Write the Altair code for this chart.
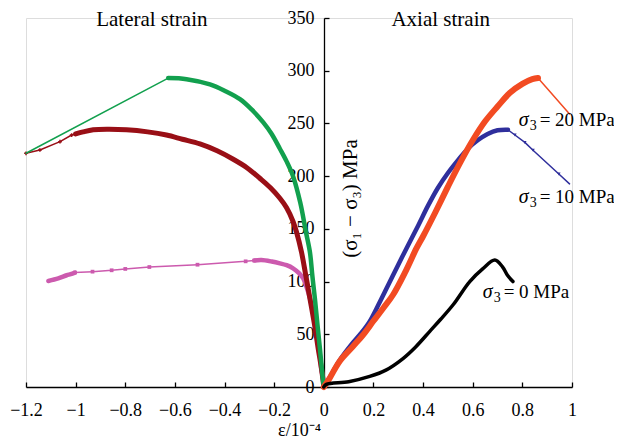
import altair as alt
import pandas as pd

# ---------------- data ----------------
X_TICKS = [-1.2, -1.0, -0.8, -0.6, -0.4, -0.2, 0, 0.2, 0.4, 0.6, 0.8, 1.0]
Y_TICKS = [0, 50, 100, 150, 200, 250, 300, 350]

# Lateral strain, sigma3 = 20 MPa (green)
LAT20_X = [0, -0.005, -0.016, -0.026, -0.036, -0.046, -0.056, -0.072, -0.095, -0.124, -0.15,
           -0.177, -0.21, -0.244, -0.29, -0.338, -0.40, -0.459, -0.553, -0.627]
LAT20_Y = [0, 10, 37, 60, 84, 105, 128, 147, 175, 200, 214, 226, 240, 251, 263, 273, 281,
           287, 292, 293]
LAT20_TAIL_X = [-0.627, -1.2]
LAT20_TAIL_Y = [293, 221.7]

# Lateral strain, sigma3 = 10 MPa (dark red)
LAT10_X = [0, -0.008, -0.023, -0.038, -0.056, -0.072, -0.090, -0.11, -0.124, -0.15, -0.177,
           -0.215, -0.258, -0.31, -0.365, -0.43, -0.499, -0.57, -0.634, -0.71, -0.795, -0.87,
           -0.929, -0.97, -1.0]
LAT10_Y = [0, 15, 37, 60, 84, 105, 128, 147, 157, 170, 179, 189, 198, 208, 216, 224, 230.5,
           235, 239, 242, 244, 244.5, 244, 242, 240]
LAT10_TAIL_X = [-1.0, -1.016, -1.063, -1.144, -1.2]
LAT10_TAIL_Y = [240, 239, 232.7, 224.8, 221.7]

# Lateral strain, sigma3 = 0 MPa (magenta)
LAT0_X = [0, -0.004, -0.009, -0.018, -0.029, -0.042, -0.056, -0.07, -0.083, -0.10, -0.124,
          -0.15, -0.177, -0.21, -0.251, -0.28]
LAT0_Y = [0, 10, 15, 35, 52.8, 70, 84.2, 95, 103, 108, 112.6, 115.5, 117.3, 119, 120.4, 120]
LAT0_TAIL_X = [-0.28, -0.315, -0.509, -0.703, -0.8, -0.855, -0.932, -1.003]
LAT0_TAIL_Y = [120, 119.2, 116, 113.8, 112, 110.7, 109.4, 108.5]
LAT0_END_X = [-1.003, -1.02, -1.036, -1.07, -1.11]
LAT0_END_Y = [108.5, 107, 106, 103, 100.6]

# Axial strain, sigma3 = 20 MPa (orange-red)
AX20_X = [0, 0.02, 0.064, 0.118, 0.16, 0.199, 0.24, 0.279, 0.33, 0.373, 0.4, 0.45, 0.5,
          0.55, 0.6, 0.65, 0.7, 0.75, 0.8, 0.84, 0.863]
AX20_Y = [0, 7, 24.5, 38.7, 50, 62.3, 75, 87.5, 110, 131.4, 143, 166, 190, 213, 234, 252,
          266, 279, 287.5, 292, 293]
AX20_TAIL_X = [0.863, 0.99]
AX20_TAIL_Y = [293, 259]

# Axial strain, sigma3 = 10 MPa (blue)
AX10_X = [0, 0.02, 0.064, 0.11, 0.15, 0.185, 0.22, 0.26, 0.30, 0.333, 0.38, 0.42, 0.46, 0.50,
          0.54, 0.58, 0.62, 0.66, 0.70, 0.742]
AX10_Y = [0, 7.5, 25.5, 40, 51, 62.3, 78, 97, 116, 131.4, 153, 172, 189, 203, 215, 226, 234,
          240, 243.5, 244]
AX10_TAIL_X = [0.742, 0.77, 0.81, 0.843, 0.947, 0.99]
AX10_TAIL_Y = [244, 239, 232, 224.5, 202, 192.7]

# Axial strain, sigma3 = 0 MPa (black)
AX0_X = [0, 0.01, 0.1, 0.185, 0.25, 0.319, 0.37, 0.427, 0.47, 0.521, 0.588, 0.64, 0.689,
         0.72, 0.74, 0.762]
AX0_Y = [0, 2.5, 5, 10, 16, 27, 38, 52.8, 64, 78, 100, 112, 120.4, 114, 106, 100]

# Text annotations
HEAD_TEXT = ["Lateral strain", "Axial strain"]
HEAD_X = [-0.693, 0.471]
HEAD_Y = [348, 348]

ANN_VALUE = ["= 20 MPa", "= 10 MPa", "= 0 MPa"]
ANN_X = [0.785, 0.785, 0.64]
ANN_Y = [253, 180, 90]

# ---------------- chart ----------------
FONT = "Liberation Serif"
PLOT_W = 546
PLOT_H = 369
xscale = alt.Scale(domain=[-1.2, 1.0], nice=False, zero=False)
yscale = alt.Scale(domain=[0, 350], nice=False, zero=False)


def frame(xs, ys):
    return pd.DataFrame({"x": xs, "y": ys, "i": list(range(len(xs)))})


def xy_none():
    return dict(
        x=alt.X("x:Q", scale=xscale, axis=None),
        y=alt.Y("y:Q", scale=yscale, axis=None),
    )


def line(xs, ys, color, width, smooth=True):
    return alt.Chart(frame(xs, ys)).mark_line(
        color=color, strokeWidth=width, strokeJoin="round", strokeCap="round",
        interpolate="catmull-rom" if smooth else "linear"
    ).encode(order="i:Q", **xy_none())


def pts(xs, ys, color, shape, size):
    return alt.Chart(frame(xs, ys)).mark_point(
        color=color, fill=color, filled=True, shape=shape, size=size, opacity=1
    ).encode(**xy_none())


GREEN = "#12a04e"
DARKRED = "#990f16"
MAGENTA = "#cc5aae"
ORANGE = "#f24b22"
BLUE = "#2f2f9c"
BLACK = "#000000"

# layer that carries the main axes (labels + domain lines)
main_axes = alt.Chart(frame(LAT0_X, LAT0_Y)).mark_line(
    color=MAGENTA, strokeWidth=4.5, strokeJoin="round", strokeCap="round",
    interpolate="catmull-rom"
).encode(
    x=alt.X("x:Q", scale=xscale, axis=alt.Axis(
        orient="bottom", values=X_TICKS, format="~g", ticks=False, grid=False,
        labelFont=FONT, labelFontSize=18, labelColor="black", labelPadding=14,
        labelFlush=False, labelOverlap=False,
        domainColor="black", domainWidth=1.3,
        title="ε/10⁻⁴", titleFont=FONT, titleFontSize=18, titleFontWeight="normal",
        titleColor="black", titlePadding=2)),
    y=alt.Y("y:Q", scale=yscale, axis=alt.Axis(
        orient="left", offset=-298, values=Y_TICKS, format="d", ticks=False, grid=False,
        labelFont=FONT, labelFontSize=18, labelColor="black", labelPadding=10,
        labelOverlap=False, domainColor="black", domainWidth=1.3, title=None)),
    order="i:Q",
)

# layer that carries the inward tick marks and the y title
tick_axes = alt.Chart(frame(AX0_X, AX0_Y)).mark_line(
    color=BLACK, strokeWidth=3.5, strokeJoin="round", strokeCap="round",
    interpolate="catmull-rom"
).encode(
    x=alt.X("x:Q", scale=xscale, axis=alt.Axis(
        orient="top", offset=-PLOT_H, values=X_TICKS, labels=False, domain=False,
        ticks=True, tickSize=5, tickColor="black", tickWidth=1.3, grid=False, title=None)),
    y=alt.Y("y:Q", scale=yscale, axis=alt.Axis(
        orient="right", offset=-248, values=Y_TICKS, labels=False, domain=False,
        ticks=True, tickSize=5, tickColor="black", tickWidth=1.3, grid=False,
        title="(σ₁ − σ₃) MPa", titleFont=FONT, titleFontSize=21, titleFontWeight="normal",
        titleColor="black", titleAngle=270, titleAlign="center", titleBaseline="middle",
        titleX=26, titleY=180)),
    order="i:Q",
)

head_df = pd.DataFrame({"x": HEAD_X, "y": HEAD_Y, "t": HEAD_TEXT})
heads = alt.Chart(head_df).mark_text(
    font=FONT, fontSize=21, color="black", align="center", baseline="middle"
).encode(text="t:N", **xy_none())

ann_df = pd.DataFrame({"x": ANN_X, "y": ANN_Y, "t": ANN_VALUE})
ann_sigma = alt.Chart(ann_df).mark_text(
    font=FONT, fontSize=20, fontStyle="italic", color="black", align="left",
    baseline="middle", text="σ"
).encode(**xy_none())
ann_sub = alt.Chart(ann_df).mark_text(
    font=FONT, fontSize=14, color="black", align="left", baseline="middle",
    dx=11, dy=6, text="3"
).encode(**xy_none())
ann_val = alt.Chart(ann_df).mark_text(
    font=FONT, fontSize=19, color="black", align="left", baseline="middle", dx=21
).encode(text="t:N", **xy_none())

chart = alt.layer(
    main_axes,
    pts(LAT0_TAIL_X, LAT0_TAIL_Y, MAGENTA, "square", 14),
    line(LAT0_TAIL_X, LAT0_TAIL_Y, MAGENTA, 1.5, smooth=False),
    line(LAT0_END_X, LAT0_END_Y, MAGENTA, 4.5),
    line(LAT10_X, LAT10_Y, DARKRED, 5),
    line(LAT10_TAIL_X, LAT10_TAIL_Y, DARKRED, 1.5, smooth=False),
    pts(LAT10_TAIL_X, LAT10_TAIL_Y, DARKRED, "cross", 14),
    line(LAT20_X, LAT20_Y, GREEN, 4.5),
    line(LAT20_TAIL_X, LAT20_TAIL_Y, GREEN, 1.5, smooth=False),
    line(AX10_X, AX10_Y, BLUE, 4.5),
    line(AX10_TAIL_X, AX10_TAIL_Y, BLUE, 1.5, smooth=False),
    pts(AX10_TAIL_X[1:-1], AX10_TAIL_Y[1:-1], BLUE, "triangle-down", 12),
    line(AX20_X, AX20_Y, ORANGE, 6),
    line(AX20_TAIL_X, AX20_TAIL_Y, ORANGE, 1.5, smooth=False),
    tick_axes,
    heads,
    ann_sigma,
    ann_sub,
    ann_val,
).resolve_axis(
    x="independent", y="independent"
).properties(
    width=PLOT_W,
    height=PLOT_H,
    autosize=alt.AutoSizeParams(type="none"),
    padding={"left": 18, "top": 10, "right": 42, "bottom": 52},
).configure_view(
    stroke=None
).configure_axis(
    labelFont=FONT, titleFont=FONT
).configure(
    background="white"
)

chart.save("out.html", embed_options={"renderer": "svg", "actions": False})
